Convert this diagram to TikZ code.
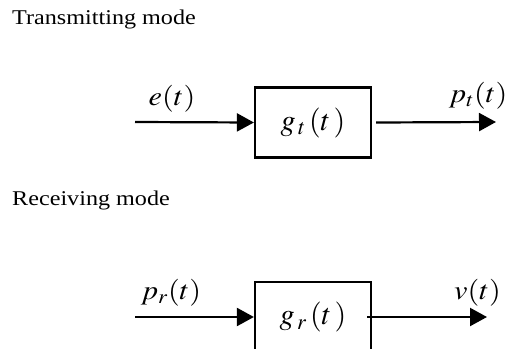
\documentclass[tikz,border=0pt]{standalone}
\usepackage{mathptmx}
\usepackage{fontspec}
\setmainfont{Liberation Serif}
\usetikzlibrary{calc,arrows.meta}

\tikzset{
 blk/.style={draw,line width=2.2pt,minimum width=116pt,minimum height=70pt,inner sep=0pt},
 sig/.style={line width=2.2pt,-{Triangle[length=17pt,width=18pt]}},
 lbl/.style={inner sep=0pt,xscale=1.12,font=\fontsize{27}{29}\selectfont},
 ttl/.style={inner sep=0pt,anchor=base west,xscale=1.15,font=\fontsize{21}{23}\selectfont}
}

\begin{document}
\begin{tikzpicture}[x=1pt,y=-1pt]
 \useasboundingbox (0,0) rectangle (508,348);
 \clip (0,0) rectangle (508,348);
 % transmitting side
 \node[ttl] (tx) at (12,24) {Transmitting mode};
 \coordinate (ein) at (135,122); \coordinate (pout) at (496,122);
 \node[blk,font=\fontsize{30}{32}\selectfont] (gt) at (313,122.5) {$g_{\,t}\,(t\,)$};
 \draw[sig] (ein)--(gt.west);
 \draw[sig] ($(gt.east)+(4,0)$) coordinate (gto) -- (pout);
 \node[lbl] (e) at (172,99) {$e(t)$};
 \node[lbl,anchor=east] (pt) at (507.5,96) {$p_t(t)$};
 % receiving side
 \node[ttl] (rx) at (12,205) {Receiving mode};
 \coordinate (pin) at (135,317); \coordinate (vout) at (487,317);
 \node[blk,font=\fontsize{30}{32}\selectfont] (gr) at (313,317) {$g_{\,r}\,(t\,)$};
 \draw[sig] (pin)--(gr.west);
 \draw[sig] ($(gr.east)+(-5,0)$) coordinate (gro) -- (vout);
 \node[lbl] (pr) at (171,293) {$p_r(t)$};
 \node[lbl,anchor=west] (v) at (454,293) {$v(t)$};
\end{tikzpicture}
\end{document}
